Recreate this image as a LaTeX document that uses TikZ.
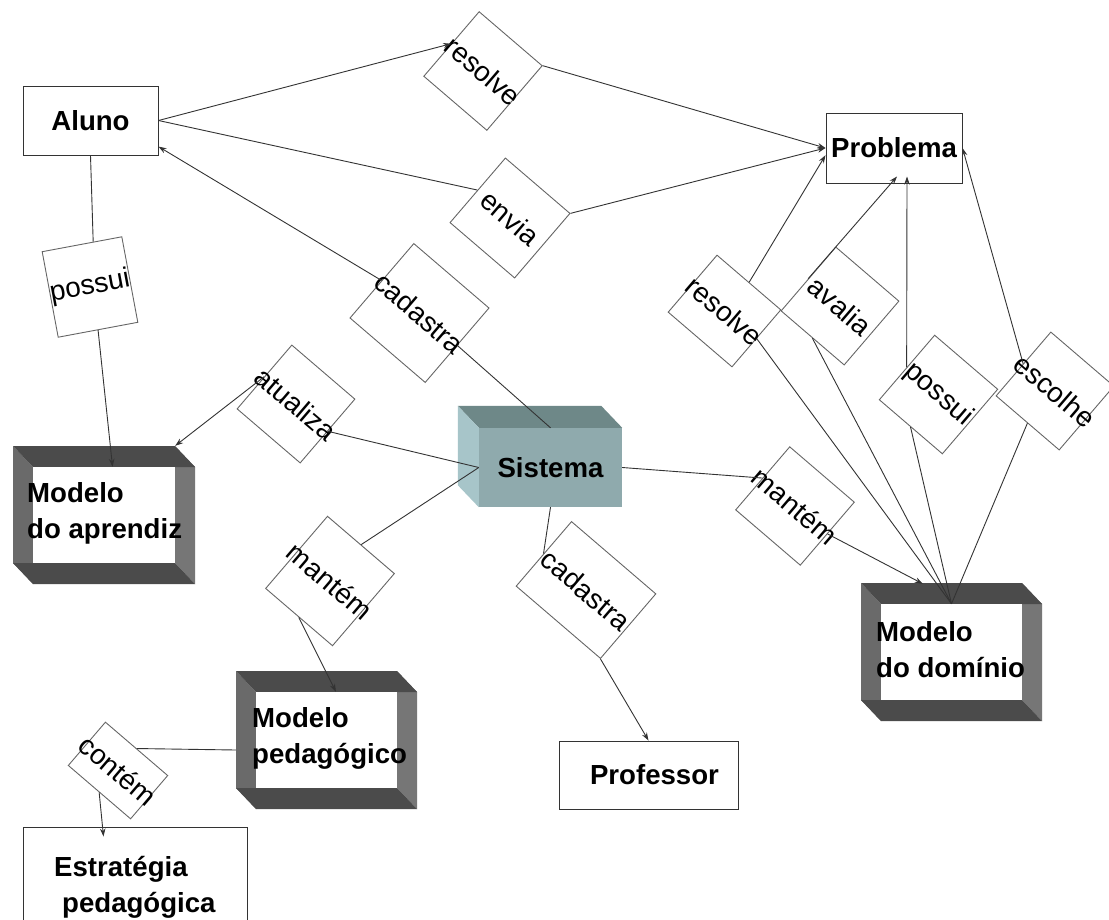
\documentclass[tikz,border=0pt]{standalone}
\usepackage{fontspec}
\setmainfont{Liberation Sans}
\usetikzlibrary{arrows.meta,calc}

\definecolor{walldark}{HTML}{4B4B4B}
\definecolor{wallleft}{HTML}{6A6A6A}
\definecolor{wallright}{HTML}{767676}
\definecolor{sysfront}{HTML}{8FAAAD}
\definecolor{systop}{HTML}{6E8888}
\definecolor{sysside}{HTML}{A7C5C9}
\definecolor{ink}{HTML}{333333}

\tikzset{
  entity/.style={draw=ink, line width=1pt, fill=white, inner sep=0pt,
    font=\fontsize{27.6}{36}\selectfont\bfseries},
  frametext/.style={anchor=west, align=left, inner sep=0pt,
    font=\fontsize{27.6}{36}\selectfont\bfseries},
  rel/.style={draw=black!60, line width=0.9pt, fill=white, inner sep=0pt,
    rotate=-40.6, font=\fontsize{28}{34}\selectfont},
  link/.style={draw=ink, line width=0.9pt},
  arr/.style={link, -{Stealth[length=8pt,width=5.5pt]}},
}

% open tube drawn in perspective: rear opening (#2,#3)-(#4,#5),
% front opening 20 right and 21 down; #1 names the white opening
\newcommand\tubeframe[5]{%
  \fill[wallleft]  (#2,#3) -- ++(20,21) -- ({#2+20},{#5+21}) -- (#2,#5) -- cycle;
  \fill[wallright] (#4,#3) -- ++(20,21) -- ({#4+20},{#5+21}) -- (#4,#5) -- cycle;
  \fill[walldark]  (#2,#3) -- (#4,#3) -- ++(20,21) -- ({#2+20},{#3+21}) -- cycle;
  \fill[walldark]  (#2,#5) -- (#4,#5) -- ++(20,21) -- ({#2+20},{#5+21}) -- cycle;
  \node[fill=white, inner sep=0pt, minimum width={#4-#2-20}, minimum height={#5-#3-21}]
    (#1) at ({(#2+20+#4)/2},{(#3+21+#5)/2}) {};
}

\begin{document}
\begin{tikzpicture}[x=1pt,y=-1pt]
\clip (0,0) rectangle (1109,919);
\fill[white] (0,0) rectangle (1109,919);

% entities
\node[entity, minimum width=135, minimum height=69] (aluno) at (90.5,120.5) {Aluno};
\node[entity, minimum width=136, minimum height=70] (problema) at (894,148) {Problema};
\node[entity, minimum width=179, minimum height=68] (professor) at (648.5,775) {\hspace*{12pt}Professor};
\node[entity, minimum width=224, minimum height=108] (estrategia) at (135,881) {};
\node[frametext, anchor=north west] (estrategiatxt) at (54,856) {Estratégia\\\hspace*{8pt}pedagógica};

% system block
\node[fill=sysfront, inner sep=0pt, minimum width=143, minimum height=79,
      font=\fontsize{27.6}{36}\selectfont\bfseries] (sistema) at (550.5,467.5) {Sistema};
\fill[systop] (sistema.north west) -- ++(-21,-22) -- ($(sistema.north east)+(-21,-22)$)
  -- (sistema.north east) -- cycle;
\fill[sysside] (sistema.north west) -- ++(-21,-22) -- ($(sistema.south west)+(-21,-22)$)
  -- (sistema.south west) -- cycle;

% models
\tubeframe{aprendiz}{13}{446}{175}{563}
\node[frametext] (aprendiztxt) at (27,513) {Modelo\\do aprendiz};
\tubeframe{dominio}{861}{583}{1022}{700}
\node[frametext] (dominiotxt) at (876,650) {Modelo\\do domínio};
\tubeframe{pedagogico}{236}{671}{397}{788}
\node[frametext] (pedagogicotxt) at (252,738) {Modelo\\pedagógico};

% relation labels
\node[rel, minimum width=83, minimum height=85] (r1) at (483,71) {\makebox[0pt]{resolve}};
\node[rel, minimum width=85, minimum height=85] (env) at (510,218) {\makebox[0pt]{envia}};
\node[rel, minimum width=99, minimum height=98] (c1) at (419.5,313) {\makebox[0pt]{cadastra}};
\node[rel, rotate=51.2, minimum width=81, minimum height=87] (p1) at (90,287) {\makebox[0pt]{possui}};
\node[rel, minimum width=83, minimum height=84] (atz) at (296,404) {\makebox[0pt]{atualiza}};
\node[rel, minimum width=88, minimum height=95] (m1) at (330,581) {\makebox[0pt]{mantém}};
\node[rel, minimum width=111, minimum height=85] (c2) at (586,590) {\makebox[0pt]{cadastra}};
\node[rel, minimum width=85, minimum height=83] (m2) at (795,506) {\makebox[0pt]{mantém}};
\node[rel, minimum width=84, minimum height=75] (r2) at (724.5,311) {\makebox[0pt]{resolve}};
\node[rel, minimum width=83, minimum height=84] (av) at (840,306) {\makebox[0pt]{avalia}};
\node[rel, minimum width=83, minimum height=85] (p2) at (938.5,394.5) {\makebox[0pt]{possui}};
\node[rel, minimum width=83, minimum height=84] (es) at (1055,391) {\makebox[0pt]{escolhe}};
\node[rel, minimum width=82, minimum height=57] (ct) at (118,770.5) {\makebox[0pt]{contém}};

% connectors
\draw[arr]  (aluno.east) -- (r1.west);
\draw[arr]  (r1.north east) -- (problema.west);
\draw[link] (aluno.east) -- (env.west);
\draw[arr]  (env.north east) -- (problema.west);
\draw[link] (sistema.north) -- (c1.east);
\draw[arr]  (c1.west) -- (aluno.-21);
\draw[link] (aluno.south) -- ($(p1.north west)!0.64!(p1.north east)$);
\draw[arr]  (p1.south) -- ($(aprendiz.north west)!0.56!(aprendiz.north east)$);
\draw[link] (sistema.west) -- (atz.east);
\draw[arr]  (atz.west) -- ([yshift=21pt]aprendiz.north east);
\draw[link] (sistema.west) -- (m1.north);
\draw[arr]  (m1.south) -- ($(pedagogico.north west)!0.567!(pedagogico.north east)$);
\draw[link] (sistema.south) -- (c2.west);
\draw[arr]  (c2.south east) -- (professor.north);
\draw[link] (sistema.east) -- (m2.west);
\draw[arr]  (m2.east) -- ($(dominio.north west)+(42,-20)$);
\draw[link] (dominio.north) -- (r2.east);
\draw[arr]  (r2.north) -- (problema.186);
\draw[link] (dominio.north) -- (av.south);
\draw[arr]  (av.west) -- ($(problema.south)+(3,-7)$);
\draw[link] (dominio.north) -- (p2.south);
\draw[arr]  (p2.west) -- ($(problema.south)+(13,-7)$);
\draw[link] (dominio.north) -- (es.south);
\draw[arr]  (es.west) -- (problema.east);
\draw[link] ($(pedagogico.west)+(-20,10)$) -- (ct.north);
\draw[arr]  (ct.south) -- ($(estrategia.north west)+(81,10)$);
\end{tikzpicture}
\end{document}
